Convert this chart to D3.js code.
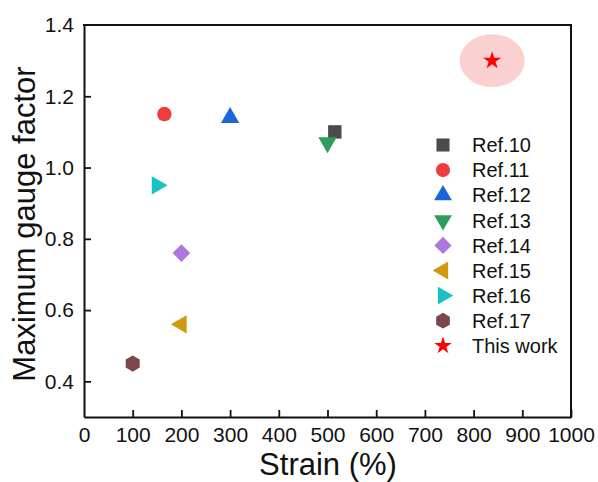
<!DOCTYPE html>
<html><head><meta charset="utf-8">
<script src="https://cdn.jsdelivr.net/npm/d3@7"></script>
<style>body{margin:0;background:#fff;} svg{display:block;font-family:"Liberation Sans",Arial,sans-serif;}</style>
</head><body><svg id="c" width="598" height="482"></svg>
<script>
const labels = ["Ref.10","Ref.11","Ref.12","Ref.13","Ref.14","Ref.15","Ref.16","Ref.17","This work"];
const strain = [515, 165, 300, 500, 200, 200, 150, 100, 838];
const gauge  = [1.10, 1.15, 1.14, 1.07, 0.76, 0.56, 0.95, 0.45, 1.30];
const colors = ["#4b4b4b","#ee3d3d","#1a66d6","#2e9d5c","#ad77df","#d09a10","#17c1c4","#7a4848","#ff0000"];
const shapes = ["square","circle","up","down","diamond","left","right","hexagon","star"];
const xTicks = [0,100,200,300,400,500,600,700,800,900,1000];
const yTicks = [0.4,0.6,0.8,1.0,1.2,1.4];

const svg = d3.select("#c");
const m = {l:84, r:571, t:25, b:417};
const x = d3.scaleLinear().domain([0,1000]).range([m.l, m.r]);
const y = d3.scaleLinear().domain([0.3,1.4]).range([m.b, m.t]);

const hexagon = {draw(ctx, size){
  const r = Math.sqrt(size/(1.5*Math.sqrt(3)));
  for(let i=0;i<6;i++){const a=Math.PI/2+i*Math.PI/3; const px=r*Math.cos(a), py=r*Math.sin(a); if(i===0)ctx.moveTo(px,py); else ctx.lineTo(px,py);}
  ctx.closePath();
}};
function sym(shape, scale){
  const s = scale||1;
  switch(shape){
    case "square": return {p:d3.symbol(d3.symbolSquare, 180*s)(), rot:0};
    case "circle": return {p:d3.symbol(d3.symbolCircle, 165*s)(), rot:0};
    case "up": return {p:d3.symbol(d3.symbolTriangle, 145*s)(), rot:0};
    case "down": return {p:d3.symbol(d3.symbolTriangle, 145*s)(), rot:180};
    case "left": return {p:d3.symbol(d3.symbolTriangle, 145*s)(), rot:-90};
    case "right": return {p:d3.symbol(d3.symbolTriangle, 145*s)(), rot:90};
    case "diamond": return {p:d3.symbol(d3.symbolSquare, 155*s)(), rot:45};
    case "hexagon": return {p:d3.symbol(hexagon, 170*s)(), rot:0};
    case "star": return {p:d3.symbol(d3.symbolStar, 100*s)(), rot:0};
  }
}

// highlight ellipse
svg.append("ellipse").attr("cx", x(strain[8])).attr("cy", y(gauge[8]))
  .attr("rx", 32.5).attr("ry", 26.5).attr("fill", "#fbd0d0");

// axes
const xAxis = d3.axisBottom(x).tickValues(xTicks).tickFormat(d3.format("d")).tickSizeInner(-7).tickSizeOuter(0).tickPadding(10);
const gx = svg.append("g").attr("transform",`translate(0,${m.b})`).call(xAxis);
const yAxis = d3.axisLeft(y).tickValues(yTicks).tickFormat(d3.format(".1f")).tickSizeInner(-7).tickSizeOuter(0).tickPadding(10);
const gy = svg.append("g").attr("transform",`translate(${m.l},0)`).call(yAxis);
[gx,gy].forEach(g=>{
  g.select(".domain").attr("stroke","#111").attr("stroke-width",2);
  g.selectAll(".tick line").attr("stroke","#111").attr("stroke-width",1.8);
  g.selectAll(".tick text").attr("font-size",21).attr("fill","#111").attr("font-family","Liberation Sans, Arial, sans-serif");
});
gx.selectAll(".tick").filter(d=>d===0).select("line").remove();
gy.selectAll(".tick").filter(d=>d===1.4).select("line").remove();
svg.append("line").attr("x1",m.l-1).attr("x2",m.r+1).attr("y1",m.t).attr("y2",m.t).attr("stroke","#111").attr("stroke-width",2);
svg.append("line").attr("x1",m.r).attr("x2",m.r).attr("y1",m.t).attr("y2",m.b+1).attr("stroke","#111").attr("stroke-width",2);

// points
labels.forEach((l,i)=>{
  const s = sym(shapes[i]);
  svg.append("path").attr("d", s.p)
    .attr("transform",`translate(${x(strain[i])},${y(gauge[i])}) rotate(${s.rot})`)
    .attr("fill", colors[i]);
});

// legend
const lg = svg.append("g");
labels.forEach((l,i)=>{
  const yy = 145 + i*25.1;
  const s = sym(shapes[i], 0.95);
  lg.append("path").attr("d", s.p).attr("transform",`translate(443,${yy}) rotate(${s.rot})`).attr("fill", colors[i]);
  lg.append("text").attr("x",472).attr("y",yy).attr("dy","0.36em").attr("font-size",20).attr("fill","#111").text(l);
});

// axis titles
svg.append("text").attr("x",328).attr("y",475).attr("text-anchor","middle").attr("font-size",31).attr("fill","#111").text("Strain (%)");
svg.append("text").attr("transform",`translate(35,${(m.t+m.b)/2+3}) rotate(-90)`).attr("text-anchor","middle").attr("font-size",31).attr("fill","#111").text("Maximum gauge factor");
</script></body></html>
